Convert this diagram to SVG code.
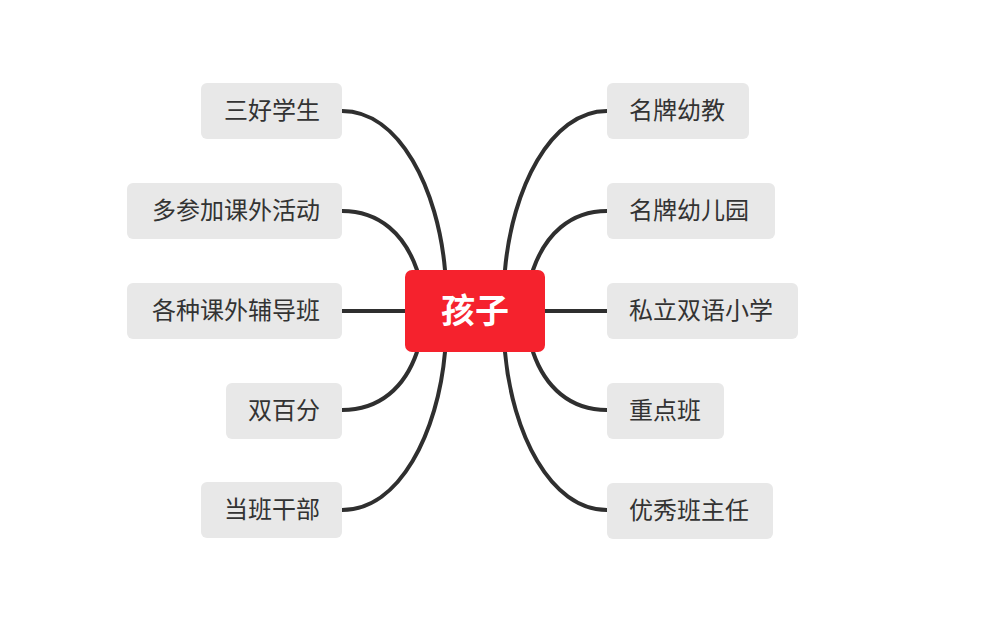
<svg xmlns="http://www.w3.org/2000/svg" width="1000" height="624" viewBox="0 0 1000 624">
<style>
.box{fill:#e8e8e8}
.t{font-family:"Noto Sans CJK SC","Noto Sans",sans-serif;font-size:24px;fill:#333}
.l{text-anchor:end}
.c{fill:none;stroke:#2f2f2f;stroke-width:4;stroke-linecap:round}
</style>
<rect width="1000" height="624" fill="#fff"/>
<g id="connectors">
<path class="c" d="M342 111 C400 111 438 190 445 270"/>
<path class="c" d="M342 211 C380 211 405 235 417 270"/>
<path class="c" d="M342 311 L405 311"/>
<path class="c" d="M342 410 C380 410 405 387 417 352"/>
<path class="c" d="M342 510 C400 510 438 432 445 352"/>
<path class="c" d="M607 111 C550 111 512 190 505 270"/>
<path class="c" d="M607 211 C570 211 545 235 533 270"/>
<path class="c" d="M545 311 L607 311"/>
<path class="c" d="M607 410 C570 410 545 387 533 352"/>
<path class="c" d="M607 510 C550 510 512 432 505 352"/>
</g>
<g id="center">
<rect x="405" y="270" width="140" height="82" rx="7" fill="#f5222d"/>
<text x="475" y="323" text-anchor="middle" style="font-family:'Noto Sans CJK SC',sans-serif;font-size:34px;font-weight:bold;fill:#fff">孩子</text>
</g>
<g id="n1"><rect class="box" x="201" y="83" width="141" height="56" rx="6"/><text class="t l" x="320" y="119">三好学生</text></g>
<g id="n2"><rect class="box" x="127" y="183" width="215" height="56" rx="6"/><text class="t l" x="320" y="219">多参加课外活动</text></g>
<g id="n3"><rect class="box" x="127" y="283" width="215" height="56" rx="6"/><text class="t l" x="320" y="319">各种课外辅导班</text></g>
<g id="n4"><rect class="box" x="226" y="383" width="116" height="56" rx="6"/><text class="t l" x="320" y="419">双百分</text></g>
<g id="n5"><rect class="box" x="201" y="482" width="141" height="56" rx="6"/><text class="t l" x="320" y="518">当班干部</text></g>
<g id="n6"><rect class="box" x="607" y="83" width="142" height="56" rx="6"/><text class="t" x="629" y="119">名牌幼教</text></g>
<g id="n7"><rect class="box" x="607" y="183" width="168" height="56" rx="6"/><text class="t" x="629" y="219">名牌幼儿园</text></g>
<g id="n8"><rect class="box" x="607" y="283" width="191" height="56" rx="6"/><text class="t" x="629" y="319">私立双语小学</text></g>
<g id="n9"><rect class="box" x="607" y="383" width="117" height="56" rx="6"/><text class="t" x="629" y="419">重点班</text></g>
<g id="n10"><rect class="box" x="607" y="483" width="166" height="56" rx="6"/><text class="t" x="629" y="519">优秀班主任</text></g>
</svg>
